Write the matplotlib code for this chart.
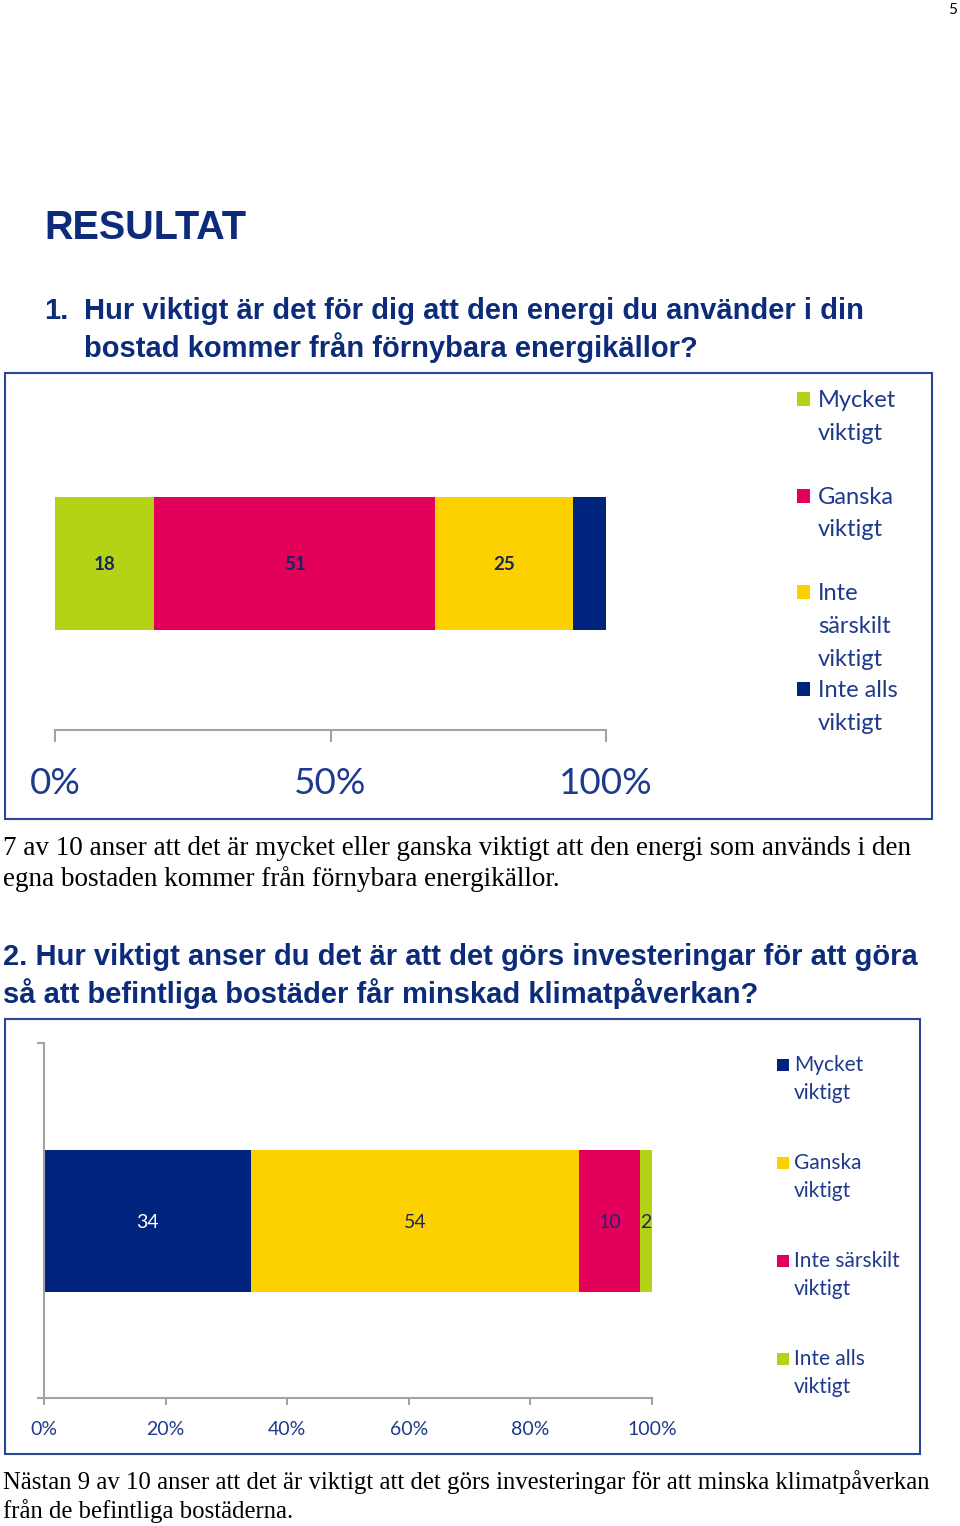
import matplotlib.pyplot as plt
from matplotlib.patches import Rectangle

W, H = 960, 1526

# data
q1_values = [18, 51, 25, 6]
q1_shown = ["18", "51", "25", ""]
q1_legend = ["Mycket\nviktigt", "Ganska\nviktigt", "Inte\nsärskilt\nviktigt", "Inte alls\nviktigt"]
q1_ticks = [0, 50, 100]
q1_ticklabels = ["0%", "50%", "100%"]

q2_values = [34, 54, 10, 2]
q2_shown = ["34", "54", "10", "2"]
q2_legend = ["Mycket\nviktigt", "Ganska\nviktigt", "Inte särskilt\nviktigt", "Inte alls\nviktigt"]
q2_ticks = [0, 20, 40, 60, 80, 100]
q2_ticklabels = ["0%", "20%", "40%", "60%", "80%", "100%"]

green = "#B5D316"
magenta = "#E2005A"
yellow = "#FDD000"
navy = "#00247D"
q1_colors = [green, magenta, yellow, navy]
q2_colors = [navy, yellow, magenta, green]
q2_label_colors = ["white", "#1A2A5E", "#2A2470", "#1A2A5E"]

head_col = "#0C2B7A"
leg_col = "#1E3A8C"
axis_gray = "#A3A3A3"
border = "#2B4599"

chart_font = ["Lato", "DejaVu Sans"]


def px(x, y):
    return x / W, 1 - y / H


fig = plt.figure(figsize=(W / 100, H / 100), dpi=100)

# page text
fig.text(*px(953, 14), "5", fontsize=11, family=chart_font, ha="center")
fig.text(*px(44, 239), "RESULTAT", fontsize=28.5, weight="bold", color=head_col,
         family="Liberation Sans")
fig.text(*px(44, 319), "1.", fontsize=21, weight="bold", color=head_col, family="Liberation Sans")
fig.text(*px(84, 319), "Hur viktigt är det för dig att den energi du använder i din",
         fontsize=21, weight="bold", color=head_col, family="Liberation Sans")
fig.text(*px(84, 357), "bostad kommer från förnybara energikällor?",
         fontsize=21, weight="bold", color=head_col, family="Liberation Sans")

fig.text(*px(3, 855), "7 av 10 anser att det är mycket eller ganska viktigt att den energi som används i den",
         fontsize=19.5, family="Liberation Serif")
fig.text(*px(3, 886), "egna bostaden kommer från förnybara energikällor.",
         fontsize=19.5, family="Liberation Serif")

fig.text(*px(3, 965), "2. Hur viktigt anser du det är att det görs investeringar för att göra",
         fontsize=21, weight="bold", color=head_col, family="Liberation Sans")
fig.text(*px(3, 1003), "så att befintliga bostäder får minskad klimatpåverkan?",
         fontsize=21, weight="bold", color=head_col, family="Liberation Sans")

fig.text(*px(3, 1489), "Nästan 9 av 10 anser att det är viktigt att det görs investeringar för att minska klimatpåverkan",
         fontsize=17.8, family="Liberation Serif")
fig.text(*px(3, 1518), "från de befintliga bostäderna.",
         fontsize=17.8, family="Liberation Serif")

# frames
fig.patches.append(Rectangle(px(5, 819), 927 / W, 446 / H, transform=fig.transFigure,
                             fill=False, edgecolor=border, lw=1.5))
fig.patches.append(Rectangle(px(5, 1454), 915 / W, 435 / H, transform=fig.transFigure,
                             fill=False, edgecolor=border, lw=1.5))

# chart 1
ax1 = fig.add_axes([55 / W, 1 - 730 / H, 551 / W, 260 / H])
left = 0
for v, c, s in zip(q1_values, q1_colors, q1_shown):
    ax1.barh(0, v, left=left, height=1, color=c)
    if s:
        ax1.text(left + v / 2, 0, s, ha="center", va="center_baseline", fontsize=13.5,
                 weight="bold", color="#17255F", family=chart_font)
    left += v
ax1.set_xlim(0, 100)
ax1.set_ylim(-1.252, 0.703)
for sp in ["left", "right", "top"]:
    ax1.spines[sp].set_visible(False)
ax1.spines["bottom"].set_color(axis_gray)
ax1.spines["bottom"].set_linewidth(1.5)
ax1.set_yticks([])
ax1.set_xticks(q1_ticks)
ax1.set_xticklabels(q1_ticklabels, fontsize=26.5, color=leg_col, family=chart_font)
ax1.tick_params(axis="x", direction="out", length=8.6, width=1.5, color=axis_gray, pad=18)
ax1.patch.set_visible(False)

for i, (lab, c) in enumerate(zip(q1_legend, q1_colors)):
    y0 = 407 + i * 96.7
    fig.patches.append(Rectangle(px(797, y0 - 1), 13 / W, 14 / H, transform=fig.transFigure,
                                 color=c, lw=0))
    for j, line in enumerate(lab.split("\n")):
        fig.text(*px(818, y0 + j * 32.7), line, fontsize=17, color=leg_col, family=chart_font)

# chart 2
ax2 = fig.add_axes([44 / W, 1 - 1398 / H, 608 / W, 355 / H])
left = 0
for v, c, s, tc in zip(q2_values, q2_colors, q2_shown, q2_label_colors):
    ax2.barh(0, v, left=left, height=1, color=c)
    ax2.text(left + v / 2, 0, s, ha="center", va="center_baseline", fontsize=14,
             color=tc, family=chart_font)
    left += v
ax2.set_xlim(0, 100)
ax2.set_ylim(-1.25, 1.25)
for sp in ["right", "top"]:
    ax2.spines[sp].set_visible(False)
for sp in ["left", "bottom"]:
    ax2.spines[sp].set_color(axis_gray)
    ax2.spines[sp].set_linewidth(1.5)
ax2.set_yticks([-1.25, 1.25])
ax2.set_yticklabels([])
ax2.set_xticks(q2_ticks)
ax2.set_xticklabels(q2_ticklabels, fontsize=14, color=leg_col, family=chart_font)
ax2.tick_params(axis="both", direction="out", length=5, width=1.5, color=axis_gray, pad=11.5)
ax2.patch.set_visible(False)

for i, (lab, c) in enumerate(zip(q2_legend, q2_colors)):
    y0 = 1071 + i * 98
    fig.patches.append(Rectangle(px(777, y0), 12 / W, 12 / H, transform=fig.transFigure,
                                 color=c, lw=0))
    for j, line in enumerate(lab.split("\n")):
        fig.text(*px(794, y0 + j * 28), line, fontsize=15, color=leg_col, family=chart_font)

fig.savefig("out.png", dpi=100)
